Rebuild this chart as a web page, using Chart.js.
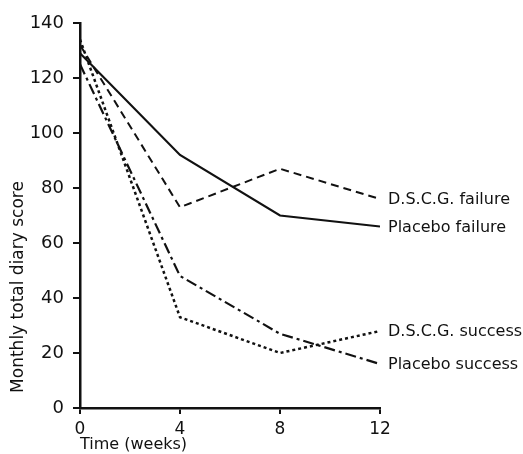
<!DOCTYPE html>
<html>
<head>
<meta charset="utf-8">
<script src="https://cdn.jsdelivr.net/npm/chart.js@4/dist/chart.umd.min.js"></script>
<style>
  html, body { margin: 0; padding: 0; background: #fff; }
  #wrap { width: 523px; height: 454px; }
</style>
</head>
<body>
<div id="wrap"><canvas id="chart" width="523" height="454"></canvas></div>
<script>
// weeks
const weeks = [0, 4, 8, 12];

// monthly total diary score
const dscgFailure = [132, 73, 87, 76];
const placeboFailure = [129, 92, 70, 66];
const dscgSuccess = [134, 33, 20, 28];
const placeboSuccess = [125, 48, 27, 16];

const seriesNames = ["D.S.C.G. failure", "Placebo failure", "D.S.C.G. success", "Placebo success"];
const yTicks = [0, 20, 40, 60, 80, 100, 120, 140];
const xTicks = [0, 4, 8, 12];

const fontFamily = "'DejaVu Sans', sans-serif";

function points(values) {
    return weeks.map((w, i) => ({ x: w, y: values[i] }));
}

// labels at the right end of each line + rotated y title
const endLabels = {
    id: "endLabels",
    afterDatasetsDraw(chart) {
        const ctx = chart.ctx;
        ctx.save();
        ctx.fillStyle = "#111";
        ctx.font = "16px " + fontFamily;
        ctx.textAlign = "left";
        ctx.textBaseline = "middle";
        chart.data.datasets.forEach((ds, i) => {
            const meta = chart.getDatasetMeta(i);
            const last = meta.data[meta.data.length - 1];
            ctx.fillText(ds.label, last.x + 8, last.y + 1);
        });

        ctx.translate(19, 287);
        ctx.rotate(-Math.PI / 2);
        ctx.textAlign = "center";
        ctx.font = "17px " + fontFamily;
        ctx.fillText("Monthly total diary score", 0, 0);
        ctx.restore();
    }
};

const canvas = document.getElementById("chart");

new Chart(canvas, {
    type: "line",
    data: {
        datasets: [
            {
                label: seriesNames[0],
                data: points(dscgFailure),
                borderColor: "#111",
                borderWidth: 2,
                borderDash: [8, 5]
            },
            {
                label: seriesNames[1],
                data: points(placeboFailure),
                borderColor: "#111",
                borderWidth: 2.2
            },
            {
                label: seriesNames[2],
                data: points(dscgSuccess),
                borderColor: "#111",
                borderWidth: 2.5,
                borderDash: [3, 3]
            },
            {
                label: seriesNames[3],
                data: points(placeboSuccess),
                borderColor: "#111",
                borderWidth: 2.2,
                borderDash: [11, 4, 3, 4]
            }
        ]
    },
    options: {
        responsive: false,
        animation: false,
        elements: {
            point: { radius: 0 },
            line: { tension: 0, fill: false }
        },
        layout: {
            padding: { top: 23, right: 143, left: 0, bottom: 0 }
        },
        plugins: {
            legend: { display: false },
            tooltip: { enabled: false }
        },
        scales: {
            x: {
                type: "linear",
                min: 0,
                max: 12,
                afterBuildTicks: s => { s.ticks = xTicks.map(v => ({ value: v })); },
                afterFit: s => { s.height = 46; },
                grid: { drawOnChartArea: false, drawTicks: true, tickLength: 6, color: "#111", lineWidth: 2 },
                border: { display: true, color: "#111", width: 2.5 },
                ticks: {
                    color: "#111",
                    padding: 5,
                    maxRotation: 0,
                    font: { family: fontFamily, size: 17 }
                },
                title: {
                    display: true,
                    text: "Time (weeks)",
                    align: "start",
                    color: "#111",
                    padding: { top: 0, bottom: 0 },
                    font: { family: fontFamily, size: 16 }
                }
            },
            y: {
                min: 0,
                max: 140,
                afterBuildTicks: s => { s.ticks = yTicks.map(v => ({ value: v })); },
                afterFit: s => { s.width = 80; },
                grid: { drawOnChartArea: false, drawTicks: true, tickLength: 7, color: "#111", lineWidth: 2 },
                border: { display: true, color: "#111", width: 2.5 },
                ticks: {
                    color: "#111",
                    padding: 9,
                    font: { family: fontFamily, size: 18 }
                }
            }
        }
    },
    plugins: [endLabels]
});
</script>
</body>
</html>
